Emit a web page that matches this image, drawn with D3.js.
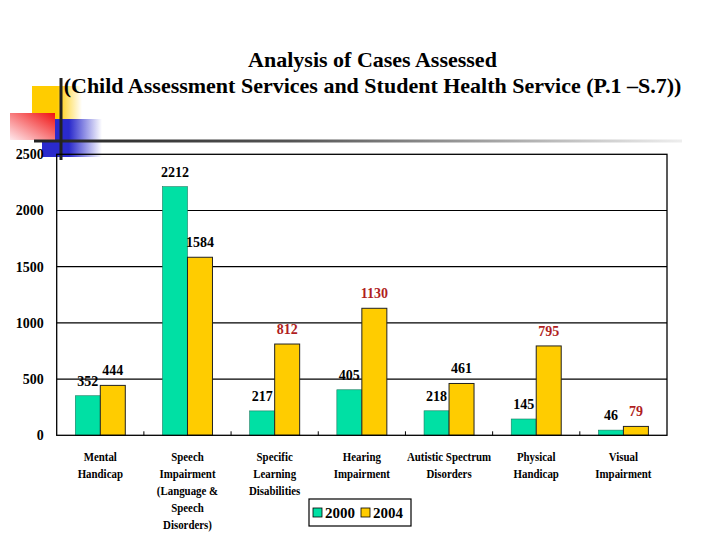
<!DOCTYPE html>
<html>
<head>
<meta charset="utf-8">
<script src="https://cdn.jsdelivr.net/npm/d3@7"></script>
<style>
  html, body { margin: 0; padding: 0; background: #fff; }
  svg { display: block; }
  text { font-family: "Liberation Serif", "Times New Roman", serif; font-weight: bold; }
</style>
</head>
<body>
<svg id="chart" width="720" height="540"></svg>
<script>
// ---- data ----
const categories = [
  "Mental|Handicap",
  "Speech|Impairment|(Language &|Speech|Disorders)",
  "Specific|Learning|Disabilities",
  "Hearing|Impairment",
  "Autistic Spectrum|Disorders",
  "Physical|Handicap",
  "Visual|Impairment"
];
const seriesNames = ["2000", "2004"];
const values2000 = [352, 2212, 217, 405, 218, 145, 46];
const values2004 = [444, 1584, 812, 1130, 461, 795, 79];
const yTickValues = [0, 500, 1000, 1500, 2000, 2500];
const titleLines = [
  "Analysis of Cases Assessed",
  "(Child Assessment Services and Student Health Service (P.1 \u2013S.7))"
];

// ---- layout ----
const svg = d3.select("#chart");
const W = 720, H = 540;
const plot = { left: 56.7, right: 667, top: 154.3, bottom: 435.3 };
const colors = { "2000": "#00E0A4", "2004": "#FFCC00" };
const redLabelIdx = new Set([2, 3, 5, 6]);
const serif = "Liberation Serif, Times New Roman, serif";

const defs = svg.append("defs");
const gY = defs.append("linearGradient").attr("id", "gYellow").attr("x1", 0).attr("x2", 1).attr("y1", 0).attr("y2", 0);
gY.append("stop").attr("offset", "0%").attr("stop-color", "#FFCC00");
gY.append("stop").attr("offset", "50%").attr("stop-color", "#FFCC00");
gY.append("stop").attr("offset", "100%").attr("stop-color", "#FFCC00").attr("stop-opacity", 0);
const gB = defs.append("linearGradient").attr("id", "gBlue").attr("x1", 0).attr("x2", 1).attr("y1", 0).attr("y2", 0);
gB.append("stop").attr("offset", "0%").attr("stop-color", "#2A2ACC");
gB.append("stop").attr("offset", "45%").attr("stop-color", "#2A2ACC");
gB.append("stop").attr("offset", "100%").attr("stop-color", "#2A2ACC").attr("stop-opacity", 0);
const gR = defs.append("linearGradient").attr("id", "gRed").attr("x1", 1).attr("x2", 0).attr("y1", 0).attr("y2", 1);
gR.append("stop").attr("offset", "0%").attr("stop-color", "#F01010");
gR.append("stop").attr("offset", "100%").attr("stop-color", "#FFE8EC");
const gL = defs.append("linearGradient").attr("id", "gLine").attr("x1", 0).attr("x2", 1).attr("y1", 0).attr("y2", 0);
gL.append("stop").attr("offset", "0%").attr("stop-color", "#222");
gL.append("stop").attr("offset", "40%").attr("stop-color", "#555");
gL.append("stop").attr("offset", "100%").attr("stop-color", "#eee");

svg.append("rect").attr("width", W).attr("height", H).attr("fill", "#fff");

// decoration (top-left squares & lines)
const deco = svg.append("g");
deco.append("rect").attr("x", 32).attr("y", 86).attr("width", 50).attr("height", 34).attr("fill", "url(#gYellow)");
deco.append("rect").attr("x", 42).attr("y", 119).attr("width", 60).attr("height", 38).attr("fill", "url(#gBlue)");
deco.append("rect").attr("x", 10).attr("y", 113).attr("width", 45).attr("height", 27).attr("fill", "url(#gRed)");
deco.append("rect").attr("x", 34).attr("y", 139.5).attr("width", 648).attr("height", 3).attr("fill", "url(#gLine)");
deco.append("rect").attr("x", 59.5).attr("y", 78).attr("width", 3).attr("height", 82).attr("fill", "#222");

// title
svg.append("g").selectAll("text").data(titleLines).join("text")
  .attr("x", 372.5)
  .attr("y", (d, i) => 67 + i * 26)
  .attr("text-anchor", "middle")
  .attr("font-family", serif)
  .attr("font-size", 22)
  .attr("fill", "#000")
  .text(d => d);

// scales
const x0 = d3.scaleBand().domain(d3.range(categories.length)).range([plot.left, plot.right]).paddingInner(0).paddingOuter(0);
const x1 = d3.scaleBand().domain(seriesNames).range([0, x0.bandwidth()]).paddingInner(0).paddingOuter(0.744);
const y = d3.scaleLinear().domain([0, 2500]).range([plot.bottom, plot.top]);

// gridlines
svg.append("g").selectAll("line").data(yTickValues.filter(v => v > 0 && v < 2500)).join("line")
  .attr("x1", plot.left).attr("x2", plot.right)
  .attr("y1", d => y(d)).attr("y2", d => y(d))
  .attr("stroke", "#000").attr("stroke-width", 1.2);

// bars
const rows = categories.map((c, i) => ({ i, vals: [
  { key: "2000", v: values2000[i] },
  { key: "2004", v: values2004[i] }
]}));
const groups = svg.append("g").selectAll("g").data(rows).join("g")
  .attr("transform", d => `translate(${x0(d.i)},0)`);
groups.selectAll("rect").data(d => d.vals).join("rect")
  .attr("x", d => x1(d.key))
  .attr("width", x1.bandwidth())
  .attr("y", d => y(d.v))
  .attr("height", d => y(0) - y(d.v))
  .attr("fill", d => colors[d.key])
  .attr("stroke", d => d.key === "2004" ? "#222" : "#1a7a60")
  .attr("stroke-width", d => d.key === "2004" ? 1 : 0.6);

// value labels
groups.selectAll("text.val").data(d => d.vals.map(v => ({ ...v, i: d.i }))).join("text")
  .attr("class", "val")
  .attr("x", d => x1(d.key) + x1.bandwidth() / 2)
  .attr("y", d => y(d.v) - 10)
  .attr("text-anchor", "middle")
  .attr("font-family", serif)
  .attr("font-size", 14)
  .attr("fill", d => (d.key === "2004" && redLabelIdx.has(d.i)) ? "#B01E1E" : "#000")
  .text(d => d.v);

// frame
svg.append("rect")
  .attr("x", plot.left).attr("y", plot.top)
  .attr("width", plot.right - plot.left).attr("height", plot.bottom - plot.top)
  .attr("fill", "none").attr("stroke", "#000").attr("stroke-width", 1.3);

// bottom category boundary ticks
svg.append("g").selectAll("line").data(d3.range(1, categories.length)).join("line")
  .attr("x1", d => plot.left + x0.step() * d).attr("x2", d => plot.left + x0.step() * d)
  .attr("y1", plot.bottom).attr("y2", plot.bottom - 4)
  .attr("stroke", "#000").attr("stroke-width", 1);

// y axis labels
const yAxis = d3.axisLeft(y).tickValues(yTickValues).tickSize(0).tickPadding(13).tickFormat(d3.format("d"));
const yg = svg.append("g").attr("transform", `translate(${plot.left},0)`).call(yAxis);
yg.select(".domain").remove();
yg.attr("font-family", serif);
yg.selectAll("text").attr("font-size", 14).attr("fill", "#000")
  .attr("font-family", serif).attr("font-weight", "bold");

// category labels (horizontally condensed like the reference)
const catG = svg.append("g").selectAll("g").data(categories).join("g")
  .attr("transform", (d, i) => `translate(${x0(i) + x0.bandwidth() / 2},0) scale(0.87,1)`);
catG.selectAll("text").data(d => d.split("|")).join("text")
  .attr("x", 0)
  .attr("y", (d, k) => 461 + k * 17)
  .attr("text-anchor", "middle")
  .attr("font-family", serif)
  .attr("font-size", 12.5)
  .attr("fill", "#000")
  .text(d => d);

// legend
const legend = svg.append("g").attr("transform", "translate(309,499)");
legend.append("rect").attr("width", 102).attr("height", 27).attr("fill", "#fff").attr("stroke", "#000").attr("stroke-width", 1.2);
const li = legend.selectAll("g").data(seriesNames).join("g")
  .attr("transform", (d, i) => `translate(${4 + i * 48},0)`);
li.append("rect").attr("x", 0).attr("y", 9).attr("width", 9).attr("height", 9)
  .attr("fill", d => colors[d]).attr("stroke", "#000").attr("stroke-width", 0.8);
li.append("text").attr("x", 12).attr("y", 19).attr("font-family", serif).attr("font-size", 15).attr("fill", "#000").text(d => d);
</script>
</body>
</html>
